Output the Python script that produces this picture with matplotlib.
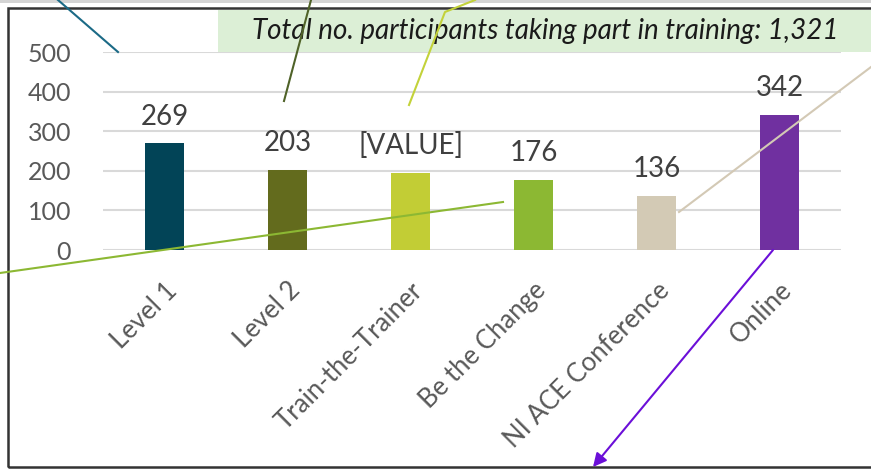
import matplotlib.pyplot as plt
from matplotlib.lines import Line2D
from matplotlib.patches import Rectangle

categories = ["Level 1", "Level 2", "Train-the-Trainer", "Be the Change", "NI ACE Conference", "Online"]
participants = [269, 203, 195, 176, 136, 342]
bar_labels = ["269", "203", "[VALUE]", "176", "136", "342"]
bar_colors = ["#024457", "#636b1d", "#c2cd35", "#8cb833", "#d3cab5", "#7030a0"]
total_text = "Total no. participants taking part in training: 1,321"

plt.rcParams['font.family'] = ['Lato', 'DejaVu Sans']

W, H = 871, 469
fig = plt.figure(figsize=(W / 100, H / 100), dpi=100)

def fpx(x, y):
    # pixel position (from top-left) -> figure fraction
    return x / W, 1 - y / H

ax = fig.add_axes([103 / W, 1 - 250 / H, (841 - 103) / W, (250 - 52) / H])
x = range(len(categories))
ax.bar(x, participants, width=0.32, color=bar_colors, zorder=3)
ax.set_xlim(-0.5, len(categories) - 0.5)
ax.set_ylim(0, 500)
ax.set_yticks([0, 100, 200, 300, 400, 500])
ax.yaxis.grid(True, color="#d9d9d9", linewidth=1.5, zorder=0)
for s in ax.spines.values():
    s.set_visible(False)
ax.tick_params(axis="y", length=0, pad=23, labelsize=18, labelcolor="#595959")
ax.tick_params(axis="x", length=0, pad=20, labelsize=18.5, labelcolor="#595959")
ax.set_xticks(list(x))
ax.set_xticklabels(categories, rotation=45, ha="right", rotation_mode="anchor")

for i, (v, lab) in enumerate(zip(participants, bar_labels)):
    ax.annotate(lab, (i, v), xytext=(0, 10), textcoords="offset points",
                ha="center", va="bottom", fontsize=20, color="#404040")

# title box
fig.add_artist(Rectangle(fpx(218, 52), (W - 218) / W, 42 / H, transform=fig.transFigure,
                         facecolor="#dcefd6", edgecolor="none", zorder=1))
fig.text(*fpx(545, 31), total_text, ha="center", va="center", fontsize=20,
         style="italic", color="#1a1a1a", zorder=2)

# frame
fig.add_artist(Rectangle(fpx(0, 3), 1, 3 / H, transform=fig.transFigure,
                         facecolor="#d4d4d4", edgecolor="none"))
fig.add_artist(Rectangle(fpx(8, 467), (W + 10 - 8) / W, (467 - 8) / H, transform=fig.transFigure,
                         facecolor="none", edgecolor="#333333", linewidth=1.8, zorder=5))

# leader lines
leaders = [
    ([58, 118], [0, 52], "#1b6a86"),
    ([311, 284], [0, 101], "#4f6228"),
    ([475, 445, 409], [0, 12, 105], "#c3d23a"),
    ([0, 503], [273, 202], "#8cb833"),
    ([679, 871], [212, 67], "#d3c9b5"),
]
for xs, ys, c in leaders:
    fx = [v / W for v in xs]
    fy = [1 - v / H for v in ys]
    fig.add_artist(Line2D(fx, fy, transform=fig.transFigure, color=c, linewidth=1.5, zorder=6))

ax.annotate("", xy=fpx(593, 467), xycoords="figure fraction",
            xytext=fpx(773, 250), textcoords="figure fraction",
            arrowprops=dict(arrowstyle="-|>,head_length=0.8,head_width=0.4",
                            color="#6b0fd8", linewidth=1.5, shrinkA=0, shrinkB=0),
            annotation_clip=False, zorder=6)

fig.savefig("out.png", dpi=100)
